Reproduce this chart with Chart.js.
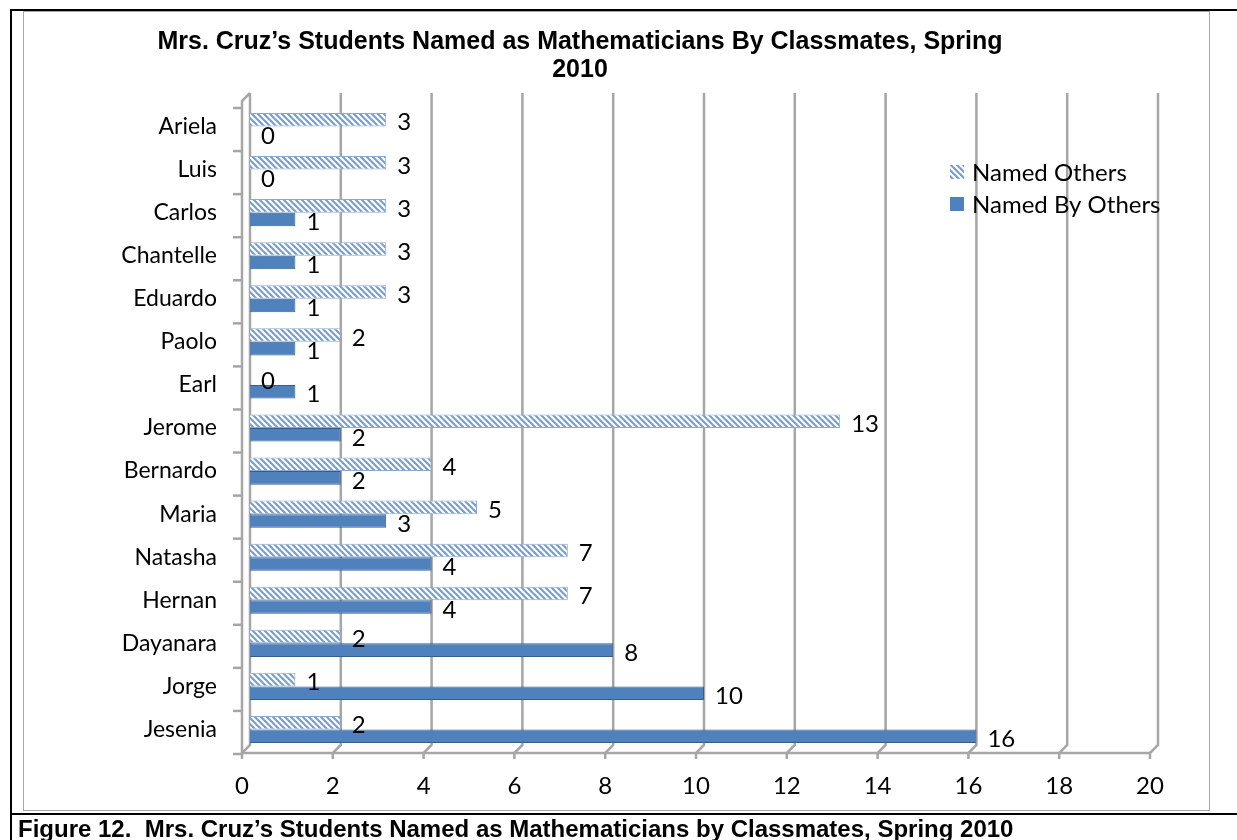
<!DOCTYPE html>
<html>
<head>
<meta charset="utf-8">
<script src="https://cdn.jsdelivr.net/npm/chart.js@4"></script>
<style>
  body { margin: 0; background: #fff; width: 1237px; height: 840px; overflow: hidden; position: relative; }
  #chart { position: absolute; left: 0; top: 0; }
  .line { position: absolute; }
  #caption { position: absolute; left: 18px; top: 815px; font: bold 24px "Liberation Sans", Arial, sans-serif; white-space: nowrap; }
</style>
</head>
<body>
<canvas id="chart" width="1237" height="812"></canvas>
<!-- table / chart frame -->
<div class="line" style="left:10px;top:9px;width:1227px;height:2px;background:#000"></div>
<div class="line" style="left:10px;top:9px;width:2px;height:831px;background:#000"></div>
<div class="line" style="left:10px;top:813px;width:1227px;height:2px;background:#000"></div>
<div class="line" style="left:23px;top:11px;width:1187px;height:800px;border:1.5px solid #a6a6a6;box-sizing:border-box"></div>
<div id="caption">Figure 12.&nbsp; Mrs. Cruz’s Students Named as Mathematicians by Classmates, Spring 2010</div>
<script>
const students = ['Ariela', 'Luis', 'Carlos', 'Chantelle', 'Eduardo', 'Paolo', 'Earl', 'Jerome', 'Bernardo', 'Maria', 'Natasha', 'Hernan', 'Dayanara', 'Jorge', 'Jesenia'];
const namedOthers = [3, 3, 3, 3, 3, 2, 0, 13, 4, 5, 7, 7, 2, 1, 2];
const namedByOthers = [0, 0, 1, 1, 1, 1, 1, 2, 2, 3, 4, 4, 8, 10, 16];
const xTicks = [0, 2, 4, 6, 8, 10, 12, 14, 16, 18, 20];
const titleLines = ['Mrs. Cruz’s Students Named as Mathematicians By Classmates, Spring', '2010'];

const labelFont = '24px Lato, "Open Sans", sans-serif';
const gridColor = '#a6a6a6';
const depth = 8; // fake 3d offset of the back wall

// striped fill for "Named Others"
function makeHatch() {
  const p = 6;
  const c = document.createElement('canvas');
  c.width = p; c.height = p;
  const g = c.getContext('2d');
  g.fillStyle = '#ffffff';
  g.fillRect(0, 0, p, p);
  g.strokeStyle = '#7c9dc9';
  g.lineWidth = 2.2;
  [-p, 0, p].forEach(k => {
    g.beginPath();
    g.moveTo(-1, k - 1);
    g.lineTo(p + 1, p + k + 1);
    g.stroke();
  });
  return g.createPattern(c, 'repeat');
}
const ctx = document.querySelector('#chart').getContext('2d');
const hatch = makeHatch();

// back wall grid, floor and axis ticks
const wallPlugin = {
  id: 'wall',
  beforeDatasetsDraw(chart) {
    const { ctx, chartArea: a, scales: { x, y } } = chart;
    const top = a.top - 12, backBottom = a.bottom - 6, front = a.bottom + 2;
    ctx.save();
    ctx.strokeStyle = gridColor;
    ctx.lineWidth = 2.5;
    xTicks.forEach(v => {
      const xb = x.getPixelForValue(v), xf = xb - depth;
      ctx.beginPath();
      ctx.moveTo(xb, top);
      ctx.lineTo(xb, backBottom);
      ctx.lineTo(xf, front);
      ctx.lineTo(xf, front + 6);
      ctx.stroke();
    });
    const x0 = x.getPixelForValue(0) - depth;
    ctx.beginPath();
    ctx.moveTo(x0, front);
    ctx.lineTo(x.getPixelForValue(20) - depth, front);
    ctx.stroke();
    ctx.beginPath();
    ctx.moveTo(x0 + depth, top);
    ctx.lineTo(x0, top + 8);
    ctx.lineTo(x0, front);
    ctx.stroke();
    const step = (a.bottom - a.top) / students.length;
    for (let i = 0; i <= students.length; i++) {
      const yy = a.top + i * step + 3;
      ctx.beginPath();
      ctx.moveTo(x0 - 9, yy);
      ctx.lineTo(x0, yy);
      ctx.stroke();
    }
    ctx.restore();
  },
  afterDraw(chart) {
    const { ctx } = chart;
    ctx.save();
    ctx.fillStyle = '#000';
    ctx.font = 'bold 25px "Liberation Sans", Arial, sans-serif';
    ctx.textAlign = 'center';
    ctx.textBaseline = 'middle';
    ctx.fillText(titleLines[0], 580, 42);
    ctx.fillText(titleLines[1], 580, 70);
    // legend
    const items = [[hatch, '#8eaad0', 'Named Others', 172], ['#4f81bd', '#385d8a', 'Named By Others', 204]];
    ctx.textAlign = 'left';
    ctx.font = labelFont;
    items.forEach(([fill, line, text, cy]) => {
      ctx.fillStyle = fill;
      ctx.fillRect(950, cy - 7, 14, 14);
      ctx.fillStyle = '#000';
      ctx.fillText(text, 972, cy + 1);
    });
    ctx.restore();
  }
};

// value labels beside each bar
const valuePlugin = {
  id: 'values',
  afterDatasetsDraw(chart) {
    const { ctx } = chart;
    ctx.save();
    ctx.font = labelFont;
    ctx.fillStyle = '#000';
    ctx.textAlign = 'left';
    ctx.textBaseline = 'middle';
    chart.data.datasets.forEach((ds, i) => {
      chart.getDatasetMeta(i).data.forEach((bar, j) => {
        ctx.fillText(ds.data[j], bar.x + 11, bar.y + 3);
      });
    });
    ctx.restore();
  }
};

new Chart(ctx, {
  type: 'bar',
  data: {
    labels: students,
    datasets: [
      { label: 'Named Others', data: namedOthers, backgroundColor: hatch, borderColor: '#8eaad0', borderWidth: 1 },
      { label: 'Named By Others', data: namedByOthers, backgroundColor: '#4f81bd', borderColor: '#385d8a', borderWidth: 1 }
    ]
  },
  options: {
    indexAxis: 'y',
    responsive: false,
    animation: false,
    categoryPercentage: 0.63,
    barPercentage: 1,
    layout: { padding: { left: 24, right: 79, top: 105, bottom: 0 } },
    plugins: { legend: { display: false }, title: { display: false }, tooltip: { enabled: false } },
    scales: {
      x: {
        min: 0, max: 20,
        afterFit: s => { s.height = 61; },
        afterBuildTicks: s => { s.ticks = xTicks.map(v => ({ value: v })); },
        grid: { display: false, drawTicks: false },
        border: { display: false },
        ticks: { color: '#000', font: { family: 'Lato', size: 24 }, padding: 21, labelOffset: -depth, maxRotation: 0 }
      },
      y: {
        afterFit: s => { s.width = 226; },
        grid: { display: false, drawTicks: false },
        border: { display: false },
        ticks: { color: '#000', font: { family: 'Lato', size: 23 }, padding: 33, autoSkip: false }
      }
    }
  },
  plugins: [wallPlugin, valuePlugin]
});
</script>
</body>
</html>
